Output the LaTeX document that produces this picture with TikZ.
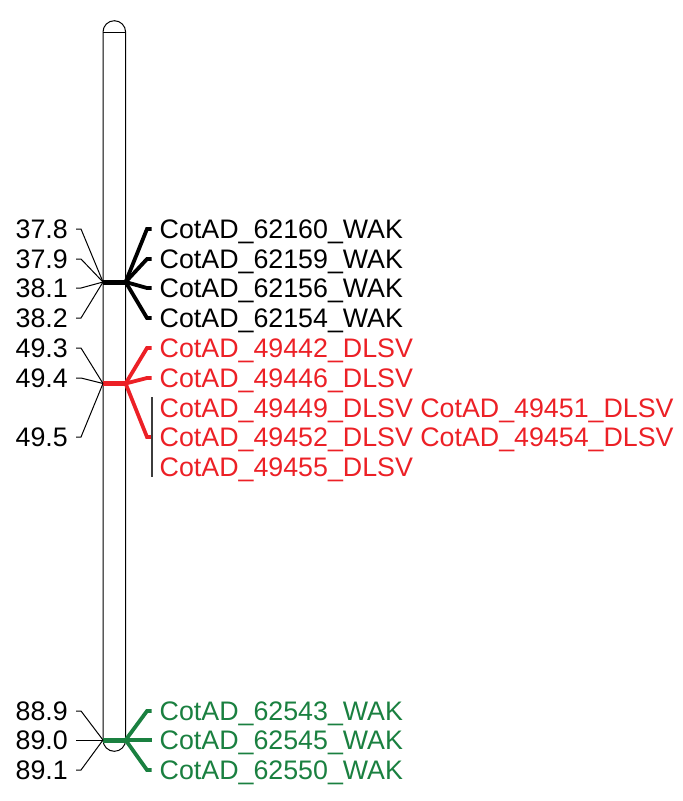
\documentclass[tikz,border=0pt]{standalone}
\usepackage{fontspec}
\setmainfont{Liberation Sans}
\definecolor{mkred}{RGB}{236,32,38}
\definecolor{mkgreen}{RGB}{26,128,64}
\definecolor{vgray}{RGB}{60,60,60}
\begin{document}
\begin{tikzpicture}[x=1pt,y=-1pt,
  lbl/.style={inner sep=0pt,font=\fontsize{26.8}{30}\selectfont},
  poslbl/.style={lbl,anchor=base east},
  namelbl/.style={lbl,anchor=base west},
  leftline/.style={black,line width=1pt},
  rightline/.style={line width=3.8pt,line join=miter},
  markbar/.style={line width=5pt},
  chrom/.style={draw=black,line width=1pt}]
\useasboundingbox (0,0) rectangle (683,801);

% chromosome
\draw[chrom] (103,32) -- (103,740) arc (180:360:11.3pt) -- (125.6,32) arc (0:180:11.3pt) -- cycle;
\draw[chrom] (103,32) -- (125.6,32);

% ---------- black group ----------
\coordinate (bL) at (103,282);
\coordinate (bR) at (125.6,282);
\draw[markbar,black] (bL) -- (bR);
\foreach \n/\p/\y in {b1/37.8/229, b2/37.9/259, b3/38.1/288, b4/38.2/318}{
  \node[poslbl] (p\n) at (68,\y+9.5) {\p};
  \coordinate (lt\n) at (76,\y);
  \coordinate (rt\n) at (147,\y);
  \draw[leftline] (lt\n) -- ++(5,0) -- (bL);
  \draw[rightline,black] (bR) -- (rt\n) -- ++(4.5,0);
}
\node[namelbl] (nb1) at (159.5,229+9.5) {CotAD\_62160\_WAK};
\node[namelbl] (nb2) at (159.5,259+9.5) {CotAD\_62159\_WAK};
\node[namelbl] (nb3) at (159.5,288+9.5) {CotAD\_62156\_WAK};
\node[namelbl] (nb4) at (159.5,318+9.5) {CotAD\_62154\_WAK};

% ---------- red group ----------
\coordinate (rL) at (103,383.5);
\coordinate (rR) at (125.6,383.5);
\draw[markbar,mkred] (rL) -- (rR);
\foreach \n/\p/\y in {r1/49.3/348, r2/49.4/378, r3/49.5/437}{
  \node[poslbl] (p\n) at (68,\y+9.5) {\p};
  \coordinate (lt\n) at (76,\y);
  \coordinate (rt\n) at (147,\y);
  \draw[leftline] (lt\n) -- ++(5,0) -- (rL);
  \draw[rightline,mkred] (rR) -- (rt\n) -- ++(4.5,0);
}
\coordinate (vt) at (152,397);
\coordinate (vb) at (152,477);
\draw[vgray,line width=1.2pt] (vt) -- (vb);
\node[namelbl,text=mkred] (nr1) at (159.5,348+9.5) {CotAD\_49442\_DLSV};
\node[namelbl,text=mkred] (nr2) at (159.5,378+9.5) {CotAD\_49446\_DLSV};
\node[namelbl,text=mkred] (nr3) at (159.5,408+9.5) {CotAD\_49449\_DLSV CotAD\_49451\_DLSV};
\node[namelbl,text=mkred] (nr4) at (159.5,437+9.5) {CotAD\_49452\_DLSV CotAD\_49454\_DLSV};
\node[namelbl,text=mkred] (nr5) at (159.5,467+9.5) {CotAD\_49455\_DLSV};

% ---------- green group ----------
\coordinate (gL) at (103,740);
\coordinate (gR) at (125.6,740);
\draw[markbar,mkgreen] (gL) -- (gR);
\foreach \n/\p/\y in {g1/88.9/711, g2/89.0/740, g3/89.1/770}{
  \node[poslbl] (p\n) at (68,\y+9.5) {\p};
  \coordinate (lt\n) at (76,\y);
  \coordinate (rt\n) at (147,\y);
  \draw[leftline] (lt\n) -- ++(5,0) -- (gL);
  \draw[rightline,mkgreen] (gR) -- (rt\n) -- ++(4.5,0);
}
\node[namelbl,text=mkgreen] (ng1) at (159.5,711+9.5) {CotAD\_62543\_WAK};
\node[namelbl,text=mkgreen] (ng2) at (159.5,740+9.5) {CotAD\_62545\_WAK};
\node[namelbl,text=mkgreen] (ng3) at (159.5,770+9.5) {CotAD\_62550\_WAK};
\end{tikzpicture}
\end{document}
